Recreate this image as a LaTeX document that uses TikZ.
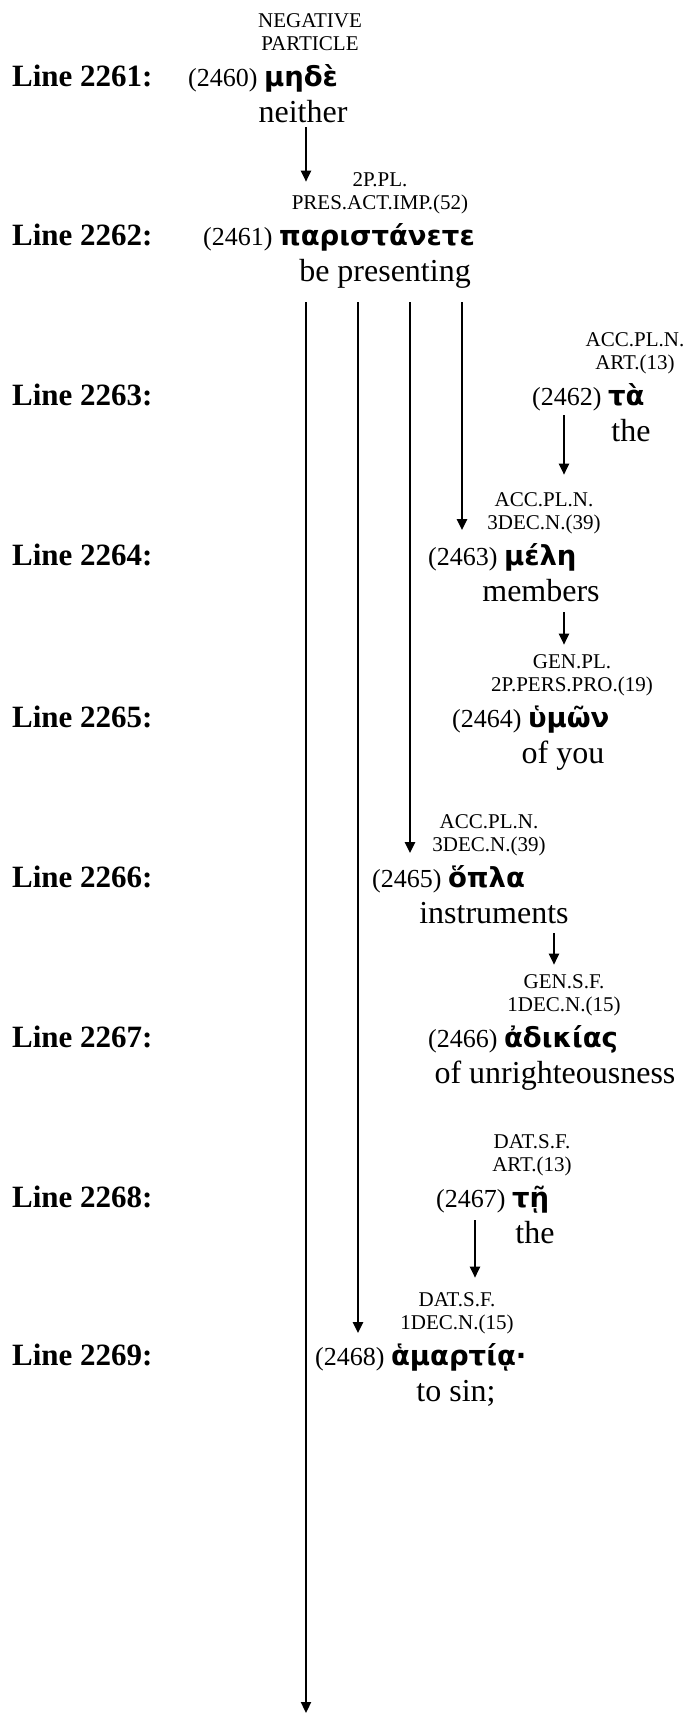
\documentclass[tikz,border=0pt]{standalone}
\usepackage{fontspec}
\setmainfont{Liberation Serif}
\newfontfamily\gkfont{DejaVu Sans}
\usetikzlibrary{arrows.meta}
\newcommand\lblfont{\fontsize{31}{36}\selectfont\bfseries}
\newcommand\numfont{\fontsize{26}{30}\selectfont}
\newcommand\tagfont{\fontsize{21}{23}\selectfont}
\newcommand\glfont{\fontsize{32}{36}\selectfont}
\newcommand\gw[1]{{\gkfont\bfseries\fontsize{27.5}{31}\selectfont #1}}
\newcommand\tgx[2]{\begin{tabular}[b]{@{}c@{}}#1\\#2\end{tabular}}
\tikzset{
  lbl/.style={font=\lblfont, anchor=base west, inner sep=0pt},
  wd/.style={font=\numfont, anchor=base west, inner sep=0pt, text depth=0pt},
  tg/.style={font=\tagfont, anchor=base, inner sep=0pt},
  gl/.style={font=\glfont, anchor=base, inner sep=0pt, text depth=0pt},
  arr/.style={line width=2.2pt, -{Triangle[width=10pt,length=11pt]}}
}
\begin{document}
\begin{tikzpicture}[x=1pt,y=-1pt]
\useasboundingbox (0,0) rectangle (686,1714);
% line labels
\node[lbl] (L1) at (12,86) {Line 2261:};
\node[lbl] (L2) at (12,245) {Line 2262:};
\node[lbl] (L3) at (12,405) {Line 2263:};
\node[lbl] (L4) at (12,565) {Line 2264:};
\node[lbl] (L5) at (12,727) {Line 2265:};
\node[lbl] (L6) at (12,887) {Line 2266:};
\node[lbl] (L7) at (12,1047) {Line 2267:};
\node[lbl] (L8) at (12,1207) {Line 2268:};
\node[lbl] (L9) at (12,1365) {Line 2269:};
% words
\node[wd] (w0) at (188,86) {(2460) \gw{μηδὲ}};
\node[wd] (w1) at (203,245) {(2461) \gw{παριστάνετε}};
\node[wd] (w2) at (532,405) {(2462) \gw{τὰ}};
\node[wd] (w3) at (428,565) {(2463) \gw{μέλη}};
\node[wd] (w4) at (452,727) {(2464) \gw{ὑμῶν}};
\node[wd] (w5) at (372,887) {(2465) \gw{ὅπλα}};
\node[wd] (w6) at (428,1047) {(2466) \gw{ἀδικίας}};
\node[wd] (w7) at (436,1207) {(2467) \gw{τῇ}};
\node[wd] (w8) at (315,1365) {(2468) \gw{ἁμαρτίᾳ·}};
% tags
\node[tg] (t0) at (310,50) {\tgx{NEGATIVE}{PARTICLE}};
\node[tg] (t1) at (380,209) {\tgx{2P.PL.}{PRES.ACT.IMP.(52)}};
\node[tg] (t2) at (635,369) {\tgx{ACC.PL.N.}{ART.(13)}};
\node[tg] (t3) at (544,529) {\tgx{ACC.PL.N.}{3DEC.N.(39)}};
\node[tg] (t4) at (572,691) {\tgx{GEN.PL.}{2P.PERS.PRO.(19)}};
\node[tg] (t5) at (489,851) {\tgx{ACC.PL.N.}{3DEC.N.(39)}};
\node[tg] (t6) at (564,1011) {\tgx{GEN.S.F.}{1DEC.N.(15)}};
\node[tg] (t7) at (532,1171) {\tgx{DAT.S.F.}{ART.(13)}};
\node[tg] (t8) at (457,1329) {\tgx{DAT.S.F.}{1DEC.N.(15)}};
% glosses
\node[gl] (g0) at (303,122) {neither};
\node[gl] (g1) at (385,281) {be presenting};
\node[gl] (g2) at (631,441) {the};
\node[gl] (g3) at (541,601) {members};
\node[gl] (g4) at (563,763) {of you};
\node[gl] (g5) at (494,923) {instruments};
\node[gl] (g6) at (555,1083) {of unrighteousness};
\node[gl] (g7) at (535,1243) {the};
\node[gl] (g8) at (456,1401) {to sin;};
% connector columns
\coordinate (k1) at (306,0);
\coordinate (k2) at (358,0);
\coordinate (k3) at (410,0);
\coordinate (k4) at (462,0);
\coordinate (k5) at (564,0);
\coordinate (k6) at (554,0);
\coordinate (k7) at (475,0);
\coordinate (cont) at (306,1713);
% connectors
\draw[arr, shorten <=5pt, shorten >=-12pt] (k1 |- g0.south) -- (k1 |- t1.north);
\draw[arr, shorten <=21pt, shorten >=6pt] (k4 |- g1.south) -- (k4 |- t3.south);
\draw[arr, shorten <=21pt, shorten >=5pt] (k3 |- g1.south) -- (k3 |- t5.south);
\draw[arr, shorten <=21pt, shorten >=3pt] (k2 |- g1.south) -- (k2 |- t8.south);
\draw[arr, shorten <=21pt] (k1 |- g1.south) -- (cont);
\draw[arr, shorten <=10pt, shorten >=15pt] (k5 |- w2.south) -- (k5 |- t3.north);
\draw[arr, shorten <=11pt, shorten >=7pt] (k5 |- g3.south) -- (k5 |- t4.north);
\draw[arr, shorten <=10pt, shorten >=7pt] (k6 |- g5.south) -- (k6 |- t6.north);
\draw[arr, shorten <=13pt, shorten >=12pt] (k7 |- w7.south) -- (k7 |- t8.north);
\end{tikzpicture}
\end{document}
